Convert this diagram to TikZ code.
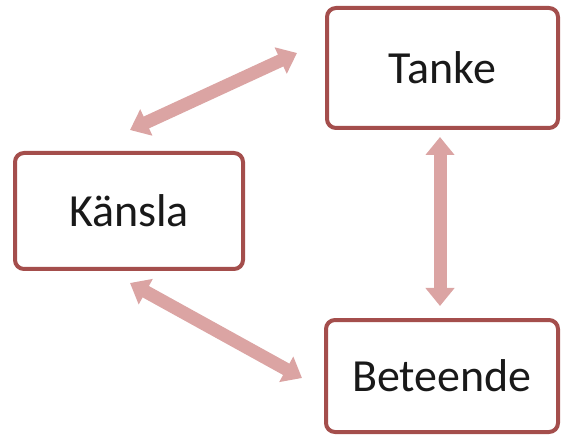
\documentclass[tikz,border=0pt]{standalone}
\usepackage{fontspec}
\setmainfont{Carlito}
\usetikzlibrary{arrows.meta}
\definecolor{boxline}{RGB}{164,78,76}
\definecolor{arrowfill}{RGB}{219,164,163}
\definecolor{txt}{RGB}{25,25,25}
\begin{document}
\begin{tikzpicture}[x=1pt,y=1pt,
  box/.style={draw=boxline, line width=4pt, rounded corners=9pt, fill=white,
    minimum width=#1, inner sep=0pt, font=\fontsize{46}{52}\selectfont, text=txt},
  dblarrow/.style={draw=arrowfill, line width=13pt,
    {Triangle[width=28pt,length=18pt]}-{Triangle[width=28pt,length=18pt]}}]
\useasboundingbox (0,0) rectangle (562,434);
\node[box=228pt, minimum height=116pt] (kansla) at (129,223) {Känsla};
\node[box=231pt, minimum height=120pt] (tanke) at (442.5,366) {Tanke};
\node[box=232pt, minimum height=112pt] (beteende) at (442,58) {Beteende};
\coordinate (a1s) at (130,304);
\coordinate (a1e) at (297,381);
\coordinate (a2s) at (440,297);
\coordinate (a2e) at (440,128);
\coordinate (a3s) at (130,151);
\coordinate (a3e) at (302,56);
\draw[dblarrow] (a1s) -- (a1e);
\draw[dblarrow] (a2s) -- (a2e);
\draw[dblarrow] (a3s) -- (a3e);
\end{tikzpicture}
\end{document}
